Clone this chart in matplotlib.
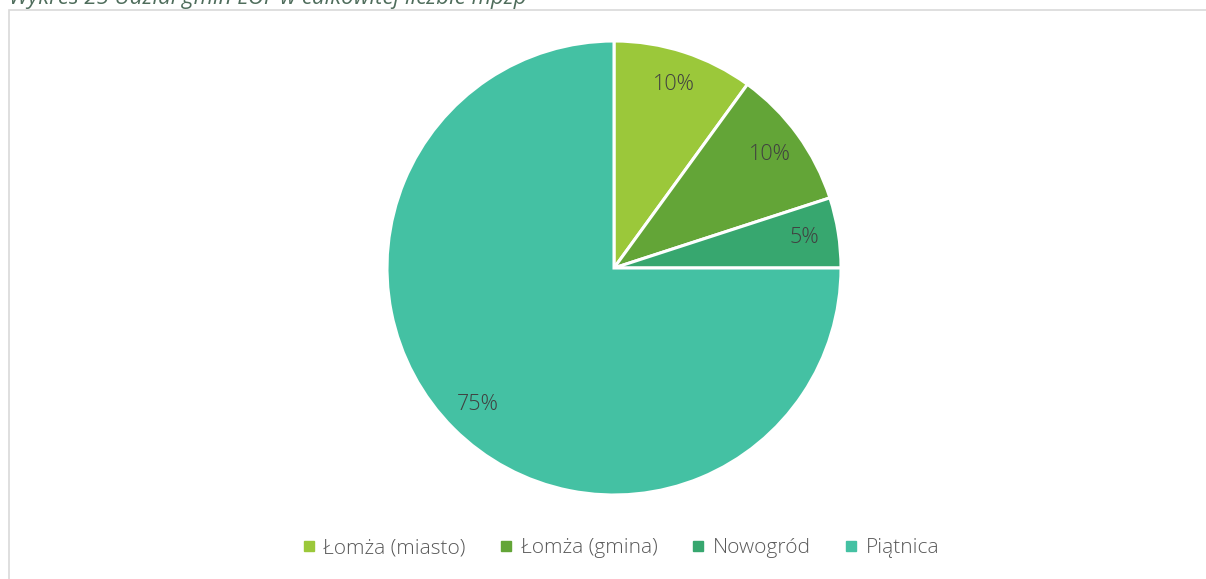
import matplotlib.pyplot as plt
from matplotlib.patches import Rectangle
from matplotlib.lines import Line2D

# dane wykresu
labels = ['Łomża (miasto)', 'Łomża (gmina)', 'Nowogród', 'Piątnica']
values = [10, 10, 5, 75]
colors = ['#9BC83A', '#63A537', '#37A76F', '#44C1A3']

plt.rcParams['font.family'] = ['Open Sans', 'DejaVu Sans']
plt.rcParams['font.weight'] = 'light'

W, H = 1206, 579
fig = plt.figure(figsize=(W / 100, H / 100), dpi=100)

# ramka wykresu (obcięta z prawej i z dołu)
fig.patches.append(Rectangle((9 / W, -0.05), 1.2, (H - 10) / H + 0.05, transform=fig.transFigure,
                             fill=False, edgecolor='#D9D9D9', linewidth=1.2))

# tytuł, częściowo ucięty u góry jak w oryginale
fig.text(9 / W, 1 - 4 / H, 'Wykres 25 Udział gmin LOF w całkowitej liczbie mpzp',
         fontsize=16, style='italic', fontweight='normal', color='#4F6D5C',
         ha='left', va='baseline')

cx, cy, r = 614, 268, 227
ax = fig.add_axes([(cx - r) / W, (H - cy - r) / H, 2 * r / W, 2 * r / H])
wedges, texts, autotexts = ax.pie(values, colors=colors, startangle=90, counterclock=False,
                                  autopct='%1.0f%%', pctdistance=0.85,
                                  wedgeprops=dict(edgecolor='white', linewidth=2.2),
                                  textprops=dict(fontsize=15.5, color='#404040', fontweight='light'))
ax.set_xlim(-1, 1)
ax.set_ylim(-1, 1)
ax.set_aspect('auto')
ax.axis('off')

handles = [Line2D([], [], marker='s', linestyle='none', markersize=7, color=c) for c in colors]
leg = fig.legend(handles, labels, loc='center', bbox_to_anchor=(620 / W, 1 - 548 / H), ncol=4,
                 frameon=False, fontsize=15, labelcolor='#595959', handletextpad=0.3,
                 columnspacing=1.55, handlelength=0.8)
for t in leg.get_texts():
    t.set_fontweight('light')

fig.savefig('out.png', dpi=100, facecolor='white')
